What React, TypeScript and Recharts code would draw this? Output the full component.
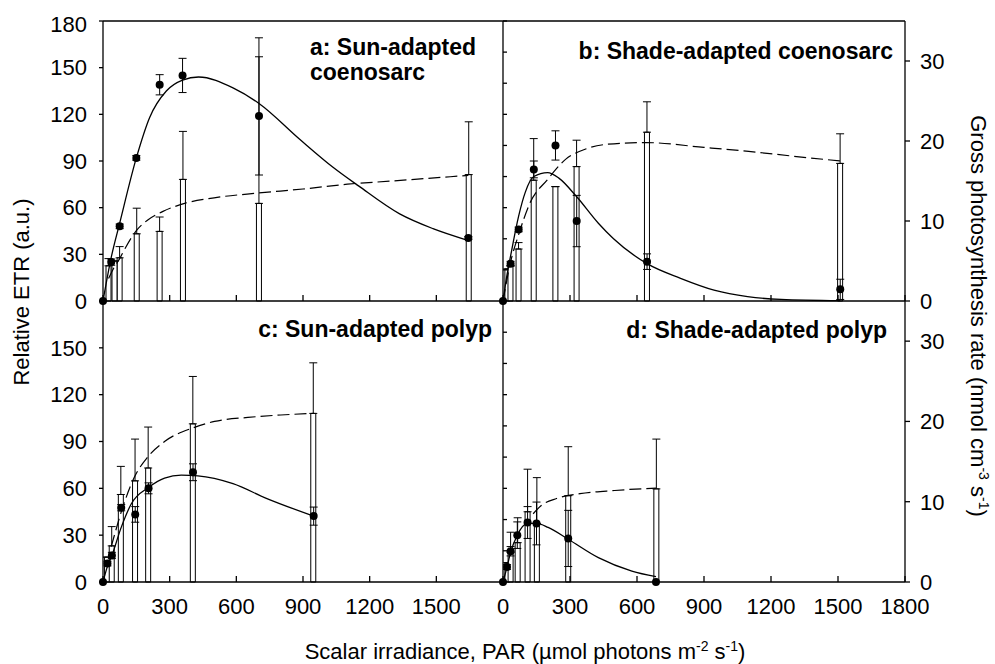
import React from 'react';
import { ComposedChart, Bar, Line, Scatter, XAxis, YAxis, ErrorBar, ReferenceLine } from 'recharts';

// tick values
const parTicksLeft = [0, 300, 600, 900, 1200, 1500];
const parTicksRight = [0, 300, 600, 900, 1200, 1500, 1800];
const etrTicksTop = [0, 30, 60, 90, 120, 150, 180];
const etrTicksBottom = [0, 30, 60, 90, 120, 150];
const etrTicksInner = [0, 20, 40, 60, 80, 100, 120, 140, 160, 180];
const gpTicks = [0, 10, 20, 30];

// a: sun-adapted coenosarc
const parDotsA = [0, 37, 75, 150, 255, 358, 702, 1644];
const etrA = [0, 25, 48, 92, 139, 145, 119, 40.5];
const etrErrA = [0, 2, 1.5, 1.5, 6.5, 11, 38, 1];
const parBarsA = [25, 50, 75, 150, 255, 358, 702, 1644];
const gpA = [4.4, 5.0, 5.4, 8.4, 8.7, 15.2, 12.2, 15.8];
const gpErrA = [0.9, 0, 1.4, 3.2, 1.8, 6.0, 20.7, 6.6];
const parEtrFitA = [0, 37, 75, 150, 210, 285, 358, 430, 585, 702, 885, 1035, 1150, 1335, 1485, 1641];
const etrFitA = [0, 28, 50, 92, 118, 135, 142, 144, 137, 127, 104, 86, 74, 56, 46.5, 39];
const parGpFitA = [25, 50, 75, 100, 150, 200, 270, 367, 500, 700, 900, 1100, 1300, 1644];
const gpFitA = [2.8, 4.2, 5.3, 6.6, 8.8, 10.1, 11.2, 12.2, 12.9, 13.5, 14.0, 14.6, 15.0, 15.7];

// b: shade-adapted coenosarc
const parDotsB = [0, 34, 70, 138, 235, 330, 645, 1510];
const etrB = [0, 24, 46, 84.6, 100, 51.4, 25.3, 7.5];
const etrErrB = [0, 1.5, 1.5, 5.4, 9.4, 16.5, 5, 6.5];
const parBarsB = [20, 34, 70, 138, 235, 330, 645, 1510];
const gpB = [4.0, 4.4, 6.5, 15.1, 14.3, 16.8, 21.1, 17.2];
const gpErrB = [0, 0, 0.8, 5.2, 0, 3.3, 3.8, 3.7];
const parEtrFitB = [0, 17, 34, 70, 100, 138, 200, 250, 330, 427, 495, 645, 795, 945, 1095, 1245, 1510];
const etrFitB = [0, 16, 29, 54.6, 70, 80, 82.5, 79, 67, 50, 40, 24, 14.6, 7, 2.8, 1, 0.2];
const parGpFitB = [0, 35, 70, 120, 200, 280, 370, 470, 640, 900, 1100, 1300, 1510];
const gpFitB = [0, 5.0, 8.3, 12.2, 15.2, 17.7, 19.0, 19.6, 19.8, 19.2, 18.7, 18.1, 17.5];

// c: sun-adapted polyp
const parDotsC = [0, 20, 40, 82, 145, 205, 405, 948];
const etrC = [0, 11.8, 17, 47.6, 43.3, 60, 70.3, 42.2];
const etrErrC = [0, 1.5, 2, 2, 5, 3.5, 5.4, 5.8];
const parBarsC = [20, 40, 82, 145, 205, 405, 948];
const gpC = [3.1, 4.5, 10.9, 12.6, 14.2, 19.7, 21.0];
const gpErrC = [0, 2.4, 3.5, 5.2, 5.1, 5.9, 6.3];
const parEtrFitC = [0, 20, 40, 82, 127, 205, 277, 352, 427, 585, 735, 948];
const etrFitC = [0, 10, 17, 35, 50, 60.6, 66.6, 68.4, 68, 63, 53.6, 42.2];
const parGpFitC = [37, 90, 142, 202, 277, 405, 502, 652, 800, 948];
const gpFitC = [4.4, 9.4, 13.1, 15.6, 17.5, 19.2, 20.0, 20.5, 20.8, 21.0];

// d: shade-adapted polyp
const parDotsD = [0, 18, 34, 64, 110, 150, 292, 685];
const etrD = [0, 9.6, 19.7, 30, 38.1, 37.5, 27.9, 0];
const etrErrD = [0, 1.5, 3, 8.5, 10.2, 13.7, 18, 0];
const parBarsD = [18, 34, 64, 110, 150, 292, 685];
const gpD = [2.4, 3.7, 4.9, 8.75, 7.3, 10.75, 11.6];
const gpErrD = [0, 2.5, 3.1, 5.3, 5.7, 6.1, 6.2];
const parEtrFitD = [0, 18, 34, 64, 110, 150, 202, 292, 427, 577, 685];
const etrFitD = [0, 9.6, 19, 30, 37.5, 37.5, 35, 27.4, 15.6, 7, 3.4];
const parGpFitD = [135, 170, 240, 345, 500, 685];
const gpFitD = [8.5, 9.5, 10.4, 11.0, 11.4, 11.7];

const dotsOf = (par: number[], etr: number[], err: number[]) =>
    par.map((p, i) => ({ par: p, etr: etr[i], etrErr: err[i] }));
const barsOf = (par: number[], gp: number[], err: number[]) =>
    par.map((p, i) => ({ par: p, gp: gp[i], gpErr: [0, err[i]] }));
const fitOf = (par: number[], vals: number[], key: string) =>
    par.map((p, i) => ({ par: p, [key]: vals[i] }));

const FONT = '"Liberation Sans", Arial, Helvetica, sans-serif';
const tickStyle = { fontSize: 22, fill: '#000', fontFamily: FONT };
const axisStyle = { stroke: '#000', strokeWidth: 1.3 };
const blankTick = () => <g />;
const dotShape = (p: any) => <circle cx={p.cx} cy={p.cy} r={4} fill="#000" />;

const geom = (side: 'left' | 'right', bottom: boolean) => {
    const isLeft = side === 'left';
    const plotH = bottom ? 281 : 280;
    const xH = bottom ? 50 : 30;
    const leftW = isLeft ? 60 : 20;
    const rightW = isLeft ? 0 : 70;
    const plotW = isLeft ? 400 : 402;
    return { isLeft, xH, leftW, rightW, w: leftW + plotW + rightW, h: 10 + plotH + xH };
};

interface PanelProps {
    left: number;
    top: number;
    side: 'left' | 'right';
    bottom: boolean;
    dots: any[];
    etrFit: any[];
    gpFit: any[];
}

// bars sit in their own layer so close PAR values keep their width
const BarLayer: React.FC<{ left: number; top: number; side: 'left' | 'right'; bottom: boolean; bars: any[] }> = ({
    left, top, side, bottom, bars,
}) => {
    const g = geom(side, bottom);
    return (
        <div style={{ position: 'absolute', left, top }}>
            <ComposedChart
                width={g.w}
                height={g.h}
                data={bars}
                margin={{ top: 10, right: g.rightW, bottom: g.xH, left: g.leftW }}
            >
                <XAxis dataKey="par" type="number" domain={[0, 1800]} hide />
                <YAxis yAxisId="gp" dataKey="gp" domain={[0, 35]} hide />
                <Bar yAxisId="gp" dataKey="gp" barSize={5} fill="#fff" stroke="#000" strokeWidth={1} isAnimationActive={false}>
                    <ErrorBar dataKey="gpErr" width={4} stroke="#000" strokeWidth={1} />
                </Bar>
            </ComposedChart>
        </div>
    );
};

const Panel: React.FC<PanelProps> = ({ left, top, side, bottom, dots, etrFit, gpFit }) => {
    const g = geom(side, bottom);
    const isLeft = g.isLeft;
    return (
        <div style={{ position: 'absolute', left, top }}>
            <ComposedChart width={g.w} height={g.h} margin={{ top: 10, right: 0, bottom: 0, left: 0 }}>
                <XAxis
                    dataKey="par"
                    type="number"
                    domain={[0, 1800]}
                    ticks={isLeft ? parTicksLeft : parTicksRight}
                    height={g.xH}
                    tickSize={-6}
                    tickMargin={22}
                    tick={bottom ? tickStyle : blankTick}
                    axisLine={axisStyle}
                    tickLine={axisStyle}
                />
                <YAxis
                    yAxisId="etr"
                    dataKey="etr"
                    domain={[0, 180]}
                    ticks={isLeft ? (bottom ? etrTicksBottom : etrTicksTop) : etrTicksInner}
                    width={g.leftW}
                    tickSize={isLeft ? 4 : -4}
                    tickMargin={12}
                    tick={isLeft ? tickStyle : blankTick}
                    axisLine={axisStyle}
                    tickLine={axisStyle}
                />
                <YAxis
                    yAxisId="gp"
                    dataKey="gp"
                    orientation="right"
                    domain={[0, 35]}
                    ticks={gpTicks}
                    hide={isLeft}
                    width={g.rightW}
                    tickSize={5}
                    tickMargin={10}
                    tick={tickStyle}
                    axisLine={axisStyle}
                    tickLine={axisStyle}
                />
                {!bottom && <ReferenceLine yAxisId="etr" y={180} stroke="#000" strokeWidth={1.3} />}
                <Line
                    data={gpFit}
                    yAxisId="gp"
                    dataKey="gp"
                    type="monotone"
                    stroke="#000"
                    strokeWidth={1.2}
                    strokeDasharray="12 5"
                    dot={false}
                    activeDot={false}
                    isAnimationActive={false}
                />
                <Line
                    data={etrFit}
                    yAxisId="etr"
                    dataKey="etr"
                    type="monotone"
                    stroke="#000"
                    strokeWidth={1.3}
                    dot={false}
                    activeDot={false}
                    isAnimationActive={false}
                />
                <Scatter data={dots} yAxisId="etr" dataKey="etr" fill="#000" shape={dotShape} isAnimationActive={false}>
                    <ErrorBar dataKey="etrErr" direction="y" width={4} stroke="#000" strokeWidth={1} />
                </Scatter>
            </ComposedChart>
        </div>
    );
};

const sup = (s: string) => (
    <tspan dy={-8} fontSize={14}>{s}</tspan>
);

const even = (rows: any[]) => rows.filter((_, i) => i % 2 === 0);
const odd = (rows: any[]) => rows.filter((_, i) => i % 2 === 1);

const panels = [
    { key: 'a', left: 43, top: 11, side: 'left' as const, bottom: false,
        dots: dotsOf(parDotsA, etrA, etrErrA), bars: barsOf(parBarsA, gpA, gpErrA),
        etrFit: fitOf(parEtrFitA, etrFitA, 'etr'), gpFit: fitOf(parGpFitA, gpFitA, 'gp') },
    { key: 'b', left: 483, top: 11, side: 'right' as const, bottom: false,
        dots: dotsOf(parDotsB, etrB, etrErrB), bars: barsOf(parBarsB, gpB, gpErrB),
        etrFit: fitOf(parEtrFitB, etrFitB, 'etr'), gpFit: fitOf(parGpFitB, gpFitB, 'gp') },
    { key: 'c', left: 43, top: 291, side: 'left' as const, bottom: true,
        dots: dotsOf(parDotsC, etrC, etrErrC), bars: barsOf(parBarsC, gpC, gpErrC),
        etrFit: fitOf(parEtrFitC, etrFitC, 'etr'), gpFit: fitOf(parGpFitC, gpFitC, 'gp') },
    { key: 'd', left: 483, top: 291, side: 'right' as const, bottom: true,
        dots: dotsOf(parDotsD, etrD, etrErrD), bars: barsOf(parBarsD, gpD, gpErrD),
        etrFit: fitOf(parEtrFitD, etrFitD, 'etr'), gpFit: fitOf(parGpFitD, gpFitD, 'gp') },
];

const App: React.FC = () => {
    return (
        <div style={{ position: 'absolute', left: 0, top: 0, width: 995, height: 664, background: '#fff' }}>
            {panels.map((p) => (
                <React.Fragment key={p.key}>
                    <BarLayer left={p.left} top={p.top} side={p.side} bottom={p.bottom} bars={even(p.bars)} />
                    <BarLayer left={p.left} top={p.top} side={p.side} bottom={p.bottom} bars={odd(p.bars)} />
                </React.Fragment>
            ))}
            {panels.map((p) => (
                <Panel key={p.key} left={p.left} top={p.top} side={p.side} bottom={p.bottom}
                    dots={p.dots} etrFit={p.etrFit} gpFit={p.gpFit} />
            ))}
            <svg width={995} height={664} style={{ position: 'absolute', left: 0, top: 0, pointerEvents: 'none' }}
                fontFamily={FONT} fill="#000">
                <g fontSize={23} fontWeight="bold">
                    <text x={310} y={55}>a: Sun-adapted</text>
                    <text x={310} y={80}>coenosarc</text>
                    <text x={893} y={59} textAnchor="end">b: Shade-adapted coenosarc</text>
                    <text x={492} y={337} textAnchor="end">c: Sun-adapted polyp</text>
                    <text x={887} y={338} textAnchor="end">d: Shade-adapted polyp</text>
                </g>
                <g fontSize={22}>
                    <text transform="translate(29,292) rotate(-90)" textAnchor="middle">Relative ETR (a.u.)</text>
                    <text transform="translate(971,316) rotate(90)" textAnchor="middle">
                        Gross photosynthesis rate (nmol cm{sup('-3')}<tspan dy={8}> s</tspan>{sup('-1')}<tspan dy={8}>)</tspan>
                    </text>
                    <text x={525} y={659} textAnchor="middle">
                        Scalar irradiance, PAR (µmol photons m{sup('-2')}<tspan dy={8}> s</tspan>{sup('-1')}<tspan dy={8}>)</tspan>
                    </text>
                </g>
            </svg>
        </div>
    );
};

export default App;
